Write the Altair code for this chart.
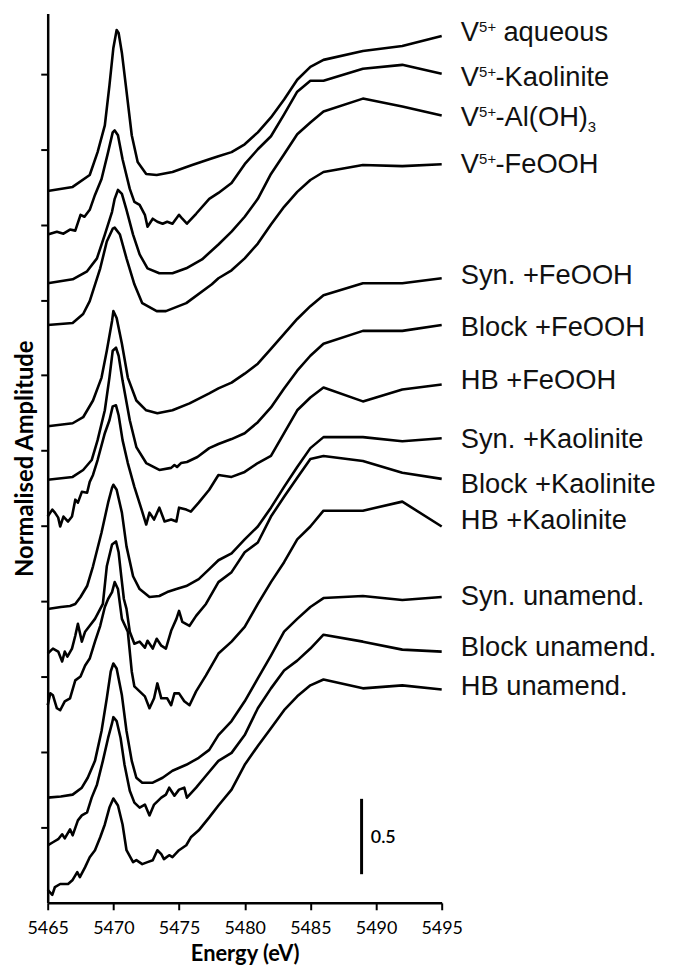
import altair as alt
import pandas as pd

# ---------------- data ----------------
samples = ["V5+ aqueous", "V5+-Kaolinite", "V5+-Al(OH)3", "V5+-FeOOH",
           "Syn. +FeOOH", "Block +FeOOH", "HB +FeOOH",
           "Syn. +Kaolinite", "Block +Kaolinite", "HB +Kaolinite",
           "Syn. unamend.", "Block unamend.", "HB unamend."]

E1 = [5465, 5466.9, 5468.2, 5468.8, 5469.35, 5469.7, 5470.0, 5470.25, 5470.4, 5470.65, 5470.95, 5471.4, 5471.85, 5472.5, 5473.3, 5474.5, 5476.0, 5477.3, 5478, 5479, 5480, 5481, 5482, 5483, 5484, 5485, 5486, 5489, 5492, 5495]
A1 = [4.723, 4.750, 4.829, 4.981, 5.158, 5.422, 5.672, 5.791, 5.771, 5.639, 5.422, 5.093, 4.915, 4.836, 4.829, 4.849, 4.895, 4.934, 4.954, 4.981, 5.033, 5.112, 5.211, 5.330, 5.461, 5.547, 5.593, 5.652, 5.685, 5.751]

E2 = [5465, 5465.7, 5466.2, 5466.7, 5467.1, 5467.5, 5467.8, 5468.2, 5468.6, 5469.1, 5469.6, 5469.95, 5470.1, 5470.35, 5470.7, 5471.25, 5471.6, 5472, 5472.4, 5472.6, 5473, 5473.35, 5473.75, 5474.1, 5474.5, 5475, 5475.25, 5475.6, 5476.3, 5477.3, 5478, 5479, 5480, 5481, 5482, 5483, 5484, 5485, 5486, 5489, 5492, 5495]
A2 = [4.434, 4.453, 4.440, 4.467, 4.460, 4.565, 4.552, 4.598, 4.697, 4.803, 4.981, 5.112, 5.125, 5.093, 4.934, 4.737, 4.651, 4.631, 4.565, 4.486, 4.539, 4.519, 4.506, 4.519, 4.506, 4.565, 4.539, 4.506, 4.572, 4.671, 4.710, 4.776, 4.901, 5.000, 5.086, 5.231, 5.382, 5.455, 5.455, 5.534, 5.560, 5.501]

E3 = [5465, 5466.9, 5468, 5468.75, 5469.35, 5469.9, 5470.1, 5470.35, 5470.65, 5471, 5471.5, 5472, 5472.6, 5473.5, 5474.5, 5475.55, 5476.75, 5478, 5479, 5480, 5481, 5482, 5483, 5484, 5485, 5486, 5489, 5492, 5495]
A3 = [4.111, 4.137, 4.190, 4.276, 4.434, 4.585, 4.671, 4.730, 4.704, 4.598, 4.434, 4.302, 4.210, 4.177, 4.177, 4.210, 4.269, 4.368, 4.453, 4.552, 4.671, 4.836, 4.967, 5.099, 5.178, 5.251, 5.336, 5.284, 5.224]

E4 = [5465, 5466.9, 5467.7, 5468.2, 5469, 5469.5, 5469.95, 5470.1, 5470.5, 5471, 5471.6, 5472.2, 5473.3, 5474, 5475.55, 5477.5, 5478, 5479, 5480, 5481, 5482, 5483, 5484, 5485, 5486, 5489, 5492, 5495]
A4 = [3.834, 3.847, 3.907, 3.992, 4.210, 4.388, 4.473, 4.480, 4.434, 4.276, 4.104, 3.979, 3.926, 3.926, 3.979, 4.104, 4.144, 4.197, 4.276, 4.374, 4.500, 4.618, 4.717, 4.796, 4.849, 4.895, 4.888, 4.901]

E5 = [5465, 5466.9, 5467.7, 5468.45, 5469.1, 5469.5, 5469.9, 5470, 5470.25, 5470.65, 5471.1, 5471.75, 5472.5, 5473.35, 5474.5, 5475.8, 5477.3, 5478, 5479, 5480, 5481, 5482, 5483, 5484, 5485, 5486, 5489, 5492, 5495]
A5 = [3.162, 3.182, 3.222, 3.333, 3.485, 3.663, 3.861, 3.926, 3.880, 3.709, 3.485, 3.333, 3.268, 3.248, 3.268, 3.314, 3.380, 3.413, 3.452, 3.511, 3.577, 3.676, 3.775, 3.874, 3.959, 4.032, 4.111, 4.111, 4.144]

E6 = [5465, 5466.9, 5467.7, 5468.35, 5468.8, 5469.35, 5469.7, 5469.95, 5470.2, 5470.4, 5470.7, 5471.25, 5471.75, 5472.5, 5473.5, 5474.4, 5474.65, 5474.85, 5475.15, 5475.6, 5476.4, 5477.3, 5478, 5479, 5480, 5481, 5482, 5483, 5484, 5485, 5486, 5489, 5492, 5495]
A6 = [2.807, 2.826, 2.872, 2.938, 3.070, 3.268, 3.485, 3.663, 3.683, 3.630, 3.465, 3.202, 3.024, 2.918, 2.872, 2.886, 2.905, 2.892, 2.918, 2.925, 2.958, 3.017, 3.044, 3.077, 3.116, 3.189, 3.287, 3.413, 3.531, 3.630, 3.709, 3.795, 3.795, 3.834]

E7 = [5465, 5465.35, 5465.55, 5465.8, 5465.95, 5466.2, 5466.55, 5466.85, 5467.1, 5467.3, 5467.6, 5468, 5468.2, 5468.45, 5468.8, 5469.35, 5469.7, 5469.95, 5470.2, 5470.4, 5470.7, 5471.1, 5471.6, 5472.15, 5472.5, 5472.75, 5473.1, 5473.5, 5473.9, 5474.4, 5474.8, 5475, 5475.55, 5475.9, 5476.5, 5477.3, 5478, 5479, 5480, 5481, 5482, 5483, 5484, 5485, 5486, 5489, 5492, 5495]
A7 = [2.563, 2.609, 2.589, 2.556, 2.497, 2.563, 2.530, 2.563, 2.675, 2.655, 2.727, 2.721, 2.793, 2.839, 2.938, 3.116, 3.202, 3.294, 3.301, 3.235, 3.070, 2.918, 2.760, 2.609, 2.510, 2.589, 2.543, 2.622, 2.530, 2.543, 2.530, 2.622, 2.609, 2.596, 2.655, 2.741, 2.839, 2.826, 2.859, 2.918, 2.965, 3.116, 3.268, 3.353, 3.419, 3.327, 3.406, 3.439]

E8 = [5465, 5466, 5466.7, 5467.1, 5467.5, 5468, 5468.45, 5469.1, 5469.6, 5469.9, 5470, 5470.25, 5470.65, 5471, 5471.5, 5472, 5472.75, 5473.5, 5474.1, 5474.8, 5475.55, 5476.5, 5477.3, 5478, 5479, 5480, 5481, 5482, 5483, 5484, 5485, 5486, 5489, 5492, 5495]
A8 = [1.950, 1.963, 1.970, 1.983, 2.029, 2.102, 2.233, 2.457, 2.655, 2.754, 2.774, 2.741, 2.589, 2.365, 2.167, 2.082, 2.029, 2.036, 2.062, 2.082, 2.102, 2.148, 2.214, 2.273, 2.319, 2.411, 2.497, 2.622, 2.760, 2.892, 3.017, 3.090, 3.090, 3.063, 3.083]

E9 = [5465, 5465.4, 5465.8, 5466.1, 5466.3, 5466.5, 5466.85, 5467.1, 5467.3, 5467.6, 5467.85, 5468.2, 5468.6, 5469, 5469.2, 5469.5, 5469.9, 5470.2, 5470.4, 5470.6, 5470.8, 5471, 5471.25, 5471.6, 5472, 5472.4, 5472.6, 5473, 5473.3, 5473.65, 5474, 5474.4, 5474.8, 5475, 5475.25, 5475.8, 5476.3, 5477.05, 5478, 5479, 5480, 5481, 5482, 5483, 5484, 5485, 5486, 5489, 5492, 5495]
A9 = [1.654, 1.687, 1.667, 1.601, 1.667, 1.634, 1.687, 1.772, 1.851, 1.733, 1.799, 1.838, 1.884, 1.950, 1.983, 2.233, 2.378, 2.398, 2.326, 2.167, 2.016, 1.950, 1.799, 1.719, 1.733, 1.693, 1.739, 1.687, 1.752, 1.706, 1.687, 1.805, 1.884, 1.937, 1.864, 1.838, 1.904, 1.983, 2.128, 2.194, 2.326, 2.391, 2.563, 2.694, 2.820, 2.945, 2.965, 2.932, 2.853, 2.813]

E10 = [5465, 5465.2, 5465.4, 5465.7, 5465.95, 5466.3, 5466.7, 5467.1, 5467.5, 5467.85, 5468.2, 5468.6, 5469, 5469.35, 5469.6, 5469.9, 5470.1, 5470.35, 5470.65, 5471.1, 5471.4, 5471.6, 5472, 5472.4, 5472.75, 5473.1, 5473.35, 5473.65, 5474.1, 5474.4, 5474.65, 5475, 5475.4, 5475.8, 5476.3, 5477.05, 5478, 5479, 5480, 5481, 5482, 5483, 5484, 5485, 5486, 5489, 5492, 5495]
A10 = [1.311, 1.390, 1.377, 1.291, 1.278, 1.337, 1.357, 1.476, 1.502, 1.575, 1.621, 1.733, 1.838, 1.963, 2.016, 2.062, 2.128, 2.082, 1.884, 1.799, 1.535, 1.436, 1.403, 1.370, 1.291, 1.357, 1.456, 1.357, 1.357, 1.311, 1.390, 1.390, 1.337, 1.311, 1.403, 1.509, 1.654, 1.733, 1.831, 1.983, 2.128, 2.260, 2.411, 2.497, 2.602, 2.602, 2.662, 2.497]

E11 = [5465, 5466, 5466.9, 5467.6, 5468.05, 5468.6, 5469.1, 5469.5, 5469.8, 5470, 5470.25, 5470.65, 5471, 5471.4, 5471.75, 5472.2, 5473, 5473.75, 5474.5, 5475.55, 5476.5, 5477.3, 5478, 5479, 5480, 5481, 5482, 5483, 5484, 5485, 5486, 5489, 5492, 5495]
A11 = [0.698, 0.705, 0.718, 0.764, 0.830, 0.942, 1.140, 1.357, 1.535, 1.588, 1.555, 1.377, 1.140, 0.942, 0.830, 0.797, 0.797, 0.830, 0.876, 0.916, 0.962, 1.015, 1.113, 1.206, 1.337, 1.489, 1.640, 1.799, 1.884, 1.963, 2.022, 2.036, 2.009, 2.029]

E12 = [5465, 5465.4, 5465.8, 5466.1, 5466.3, 5466.7, 5466.9, 5467.3, 5467.6, 5468, 5468.35, 5468.75, 5469.2, 5469.6, 5469.9, 5470, 5470.25, 5470.55, 5470.85, 5471.25, 5471.6, 5472, 5472.4, 5472.75, 5473.1, 5473.65, 5474, 5474.25, 5474.65, 5475, 5475.4, 5475.6, 5476.3, 5477.05, 5478, 5479, 5480, 5481, 5482, 5483, 5484, 5485, 5486, 5489, 5492, 5495]
A12 = [0.382, 0.402, 0.422, 0.455, 0.428, 0.488, 0.448, 0.547, 0.580, 0.600, 0.698, 0.784, 0.942, 1.094, 1.192, 1.232, 1.206, 1.094, 0.916, 0.744, 0.665, 0.632, 0.652, 0.580, 0.652, 0.698, 0.718, 0.764, 0.711, 0.751, 0.764, 0.698, 0.764, 0.843, 0.942, 0.995, 1.113, 1.291, 1.423, 1.542, 1.607, 1.687, 1.779, 1.733, 1.680, 1.667]

E13 = [5465, 5465.35, 5465.55, 5465.95, 5466.55, 5466.9, 5467.25, 5467.45, 5467.85, 5468.2, 5468.6, 5469, 5469.35, 5469.7, 5470, 5470.35, 5470.7, 5471, 5471.5, 5471.75, 5472.2, 5472.6, 5473, 5473.35, 5473.65, 5473.85, 5474.25, 5474.5, 5475, 5475.55, 5475.9, 5476.5, 5477.3, 5478, 5479, 5480, 5481, 5482, 5483, 5484, 5485, 5486, 5489, 5492, 5495]
A13 = [0.086, 0.053, 0.105, 0.125, 0.125, 0.152, 0.204, 0.171, 0.237, 0.303, 0.349, 0.435, 0.520, 0.632, 0.692, 0.646, 0.520, 0.349, 0.270, 0.283, 0.257, 0.270, 0.283, 0.349, 0.323, 0.290, 0.316, 0.303, 0.349, 0.382, 0.435, 0.481, 0.567, 0.646, 0.751, 0.916, 1.041, 1.159, 1.278, 1.370, 1.443, 1.482, 1.423, 1.443, 1.416]

# label pieces (main text, superscript, rest after a hyphen, rest after a space, subscript)
label_main = ["V", "V", "V", "V", "Syn. +FeOOH", "Block +FeOOH", "HB +FeOOH",
              "Syn. +Kaolinite", "Block +Kaolinite", "HB +Kaolinite",
              "Syn. unamend.", "Block unamend.", "HB unamend."]
label_sup = ["5+", "5+", "5+", "5+", "", "", "", "", "", "", "", "", ""]
label_rest = ["", "-Kaolinite", "-Al(OH)", "-FeOOH", "", "", "", "", "", "", "", "", ""]
label_rest_spaced = ["aqueous", "", "", "", "", "", "", "", "", "", "", "", ""]
label_sub = ["", "", "3", "", "", "", "", "", "", "", "", "", ""]
label_y = [5.771, 5.475, 5.205, 4.895, 4.157, 3.814, 3.459, 3.070, 2.774, 2.530, 2.029, 1.693, 1.430]
label_energy = 5496.45

x_ticks = [5465, 5470, 5475, 5480, 5485, 5490, 5495]
y_ticks = [0.5, 1.0, 1.5, 2.0, 2.5, 3.0, 3.5, 4.0, 4.5, 5.0, 5.5]

scalebar_energy = [5488.9]
scalebar_low = [0.19]
scalebar_high = [0.69]
scalebar_text = ["0.5"]
scalebar_text_energy = [5489.6]
scalebar_text_y = [0.43]

# ---------------- build tables ----------------
series = [(E1, A1), (E2, A2), (E3, A3), (E4, A4), (E5, A5), (E6, A6), (E7, A7),
          (E8, A8), (E9, A9), (E10, A10), (E11, A11), (E12, A12), (E13, A13)]
rows = []
for name, (E, A) in zip(samples, series):
    for e, a in zip(E, A):
        rows.append({"sample": name, "energy": e, "amp": a})
df = pd.DataFrame(rows)

lab = pd.DataFrame({"main": label_main, "sup": label_sup, "rest": label_rest,
                    "rest2": label_rest_spaced, "sub": label_sub, "ly": label_y,
                    "lx": [label_energy] * len(label_main)})

bar = pd.DataFrame({"x": scalebar_energy, "y": scalebar_low, "y2": scalebar_high})
bar_txt = pd.DataFrame({"x": scalebar_text_energy, "y": scalebar_text_y, "t": scalebar_text})

AXIS_FONT = "Lato"
LABEL_FONT = "Liberation Sans"
LSIZE = 27.5
SSIZE = 15
INK = "#111111"

xscale = alt.Scale(domain=[5465, 5495], nice=False, zero=False)
yscale = alt.Scale(domain=[0, 5.9], nice=False, zero=False)

lines = alt.Chart(df).mark_line(color="black", strokeWidth=2.6, strokeJoin="round").encode(
    x=alt.X("energy:Q", scale=xscale,
            axis=alt.Axis(values=x_ticks, format="d", title="Energy (eV)",
                          labelFont=AXIS_FONT, labelFontSize=18, labelColor="black",
                          labelPadding=10, labelFlush=False, labelOverlap=False,
                          tickSize=7, tickWidth=2, tickColor="black",
                          domainColor="black", domainWidth=2.5, grid=False,
                          titleFont=AXIS_FONT, titleFontSize=22, titleFontWeight="bold",
                          titleColor="black", titleBaseline="top", titleY=41)),
    y=alt.Y("amp:Q", scale=yscale,
            axis=alt.Axis(values=y_ticks, labels=False, title="Normalised Amplitude",
                          tickSize=7, tickWidth=2, tickColor="black",
                          domainColor="black", domainWidth=2.5, grid=False,
                          titleFont=AXIS_FONT, titleFontSize=24, titleFontWeight="bold",
                          titleColor="black", titleBaseline="alphabetic", titleX=-15)),
    detail="sample:N",
)

def label_layer(field, size, dx, dy=0):
    return alt.Chart(lab).transform_filter(f"datum.{field} != ''").mark_text(
        align="left", baseline="middle", font=LABEL_FONT, fontSize=size,
        dx=dx, dy=dy, color=INK).encode(
        x=alt.X("lx:Q", scale=xscale), y=alt.Y("ly:Q", scale=yscale), text=f"{field}:N")

txt_main = label_layer("main", LSIZE, 0)
txt_sup = label_layer("sup", SSIZE, 18.5, -6)
txt_rest = label_layer("rest", LSIZE, 35)
txt_rest2 = label_layer("rest2", LSIZE, 43)
txt_sub = label_layer("sub", SSIZE, 128, 9)

rule = alt.Chart(bar).mark_rule(color="black", strokeWidth=3).encode(
    x=alt.X("x:Q", scale=xscale), y=alt.Y("y:Q", scale=yscale), y2="y2:Q")

rule_txt = alt.Chart(bar_txt).mark_text(align="left", baseline="middle", font=AXIS_FONT,
                                        fontSize=18, fontWeight=600, color="black").encode(
    x=alt.X("x:Q", scale=xscale), y=alt.Y("y:Q", scale=yscale), text="t:N")

chart = alt.layer(lines, txt_main, txt_sup, txt_rest, txt_rest2, txt_sub, rule, rule_txt).properties(
    width=397, height=896,
    padding={"left": 40, "top": 2, "right": 225, "bottom": 60},
    autosize=alt.AutoSizeParams(type="none"),
    background="white",
).configure_view(stroke=None)

chart.save("out.html", embed_options={"renderer": "svg", "actions": False})
